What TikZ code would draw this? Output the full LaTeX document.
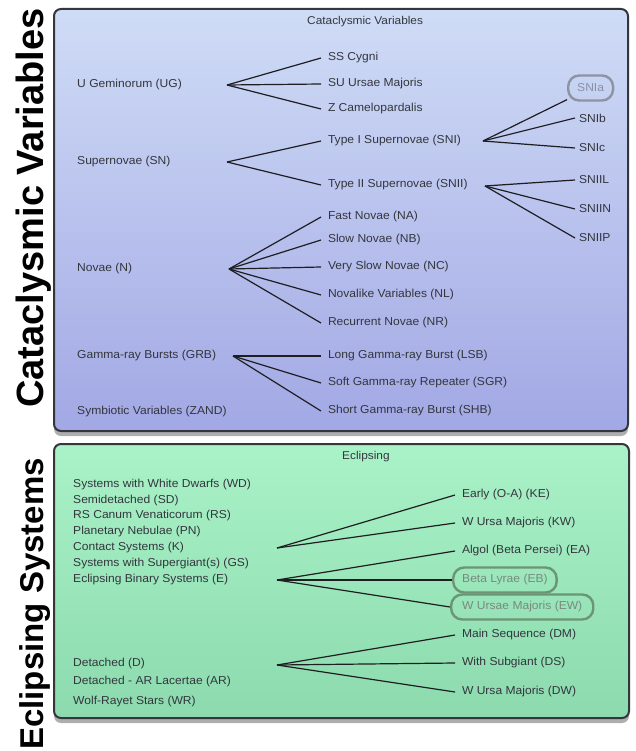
\documentclass[tikz,border=0pt]{standalone}
\usepackage{fontspec}
\setmainfont{Liberation Sans}[FakeStretch=1.05]
\newfontfamily\bigfont{Liberation Sans}
\usetikzlibrary{shadows}
\definecolor{txt}{HTML}{33363D}
\definecolor{lnk}{HTML}{1E1E22}
\definecolor{bord}{HTML}{35363C}
\definecolor{blueA}{HTML}{CFDCF6}
\definecolor{blueB}{HTML}{A2A8E4}
\definecolor{greenA}{HTML}{AAF2C8}
\definecolor{greenB}{HTML}{8CDAAE}
\definecolor{ovalG}{HTML}{6B9575}
\definecolor{ovalB}{HTML}{8E93A4}
\definecolor{grayG}{HTML}{788A80}
\definecolor{grayB}{HTML}{8B90A6}
\begin{document}
\begin{tikzpicture}[x=1pt,y=-1pt,
  item/.style={anchor=west, inner sep=0pt, outer xsep=7pt, text=txt, font=\fontsize{11.5}{13}\selectfont},
  itemn/.style={item, outer xsep=4pt},
  src/.style={anchor=west, inner sep=0pt, text=txt, font=\fontsize{11.5}{13}\selectfont},
  ttl/.style={anchor=west, inner sep=0pt, text=txt, font=\fontsize{11.3}{13}\selectfont},
  big/.style={rotate=90, anchor=base, inner sep=0pt, font=\fontsize{38}{40}\bigfont\bfseries},
  link/.style={draw=lnk, line width=1.2pt},
  panel/.style={draw=bord, line width=2pt, rounded corners=7pt,
     drop shadow={shadow xshift=0pt, shadow yshift=-5pt, opacity=0.45, fill=black!70}},
  ovalg/.style={anchor=west, draw=ovalG, line width=2.4pt,
     rounded corners=11pt, minimum height=25pt, inner xsep=9pt, inner ysep=0pt, text=grayG,
     font=\fontsize{11.5}{13}\selectfont},
  ovalb/.style={ovalg, draw=ovalB, text=grayB}
]
\useasboundingbox (0,0) rectangle (635,751);
\fill[white] (0,0) rectangle (635,751);

% panels
\node[panel, top color=blueA, bottom color=blueB, minimum width=574pt, minimum height=422pt,
  anchor=north west, inner sep=0pt] (cvbox) at (53,8) {};
\node[panel, top color=greenA, bottom color=greenB, minimum width=575pt, minimum height=274pt,
  anchor=north west, inner sep=0pt] (ebox) at (53,443) {};

% big side titles
\node[big] (cvlab) at (43,208) {Cataclysmic Variables};
\node[big, font=\fontsize{33}{35}\bigfont\bfseries] (eslab) at (43,604) {Eclipsing Systems};

% ---------- Cataclysmic variables ----------
\node[ttl] (cvt) at (307,22) {Cataclysmic Variables};

\node[src] (ug) at (77,85) {U Geminorum (UG)};
\coordinate (ugb) at (227,85);
\node[item] (ssc) at (321,58) {SS Cygni};
\node[item] (suu) at (321,84) {SU Ursae Majoris};
\node[item] (zca) at (321,109) {Z Camelopardalis};
\foreach \t in {ssc,suu,zca} \draw[link] (ugb) -- (\t.west);

\node[src] (sn) at (77,162) {Supernovae (SN)};
\coordinate (snb) at (227,162);
\node[item] (sni) at (321,141) {Type I Supernovae (SNI)};
\node[item] (snii) at (321,185) {Type II Supernovae (SNII)};
\foreach \t in {sni,snii} \draw[link] (snb) -- (\t.west);

\coordinate (snib) at (483,141);
\node[ovalb] (snia) at (567,88) {SNIa};
\node[itemn] (snib2) at (575,118) {SNIb};
\node[itemn] (snic) at (575,148) {SNIc};
\draw[link] (snib) -- (snia);
\draw[link] (snib) -- (snib2.west);
\draw[link] (snib) -- (snic.west);

\coordinate (sniib) at (485,186);
\node[itemn] (sniil) at (575,180) {SNIIL};
\node[itemn] (sniin) at (575,209) {SNIIN};
\node[itemn] (sniip) at (575,238) {SNIIP};
\foreach \t in {sniil,sniin,sniip} \draw[link] (sniib) -- (\t.west);

\node[src] (nov) at (77,269) {Novae (N)};
\coordinate (novb) at (229,269);
\node[item] (na) at (321,217) {Fast Novae (NA)};
\node[item] (nb) at (321,240) {Slow Novae (NB)};
\node[item] (nc) at (321,267) {Very Slow Novae (NC)};
\node[item] (nl) at (321,295) {Novalike Variables (NL)};
\node[item] (nr) at (321,323) {Recurrent Novae (NR)};
\foreach \t in {na,nb,nc,nl,nr} \draw[link] (novb) -- (\t.west);

\node[src] (grb) at (77,356) {Gamma-ray Bursts (GRB)};
\coordinate (grbb) at (233,356);
\node[item] (lsb) at (321,356) {Long Gamma-ray Burst (LSB)};
\node[item] (sgr) at (321,383) {Soft Gamma-ray Repeater (SGR)};
\node[item] (shb) at (321,411) {Short Gamma-ray Burst (SHB)};
\foreach \t in {lsb,sgr,shb} \draw[link] (grbb) -- (\t.west);

\node[src] (zand) at (77,412) {Symbiotic Variables (ZAND)};

% ---------- Eclipsing ----------
\node[ttl] (ect) at (342,457) {Eclipsing};

\node[src] (wd) at (73,485) {Systems with White Dwarfs (WD)};
\node[src] (sd) at (73,501) {Semidetached (SD)};
\node[src] (rs) at (73,516) {RS Canum Venaticorum (RS)};
\node[src] (pn) at (73,532) {Planetary Nebulae (PN)};
\node[src] (k) at (73,548) {Contact Systems (K)};
\node[src] (gs) at (73,564) {Systems with Supergiant(s) (GS)};
\node[src] (e) at (73,580) {Eclipsing Binary Systems (E)};
\node[src] (d) at (73,664) {Detached (D)};
\node[src] (ar) at (73,682) {Detached - AR Lacertae (AR)};
\node[src] (wr) at (73,702) {Wolf-Rayet Stars (WR)};

\coordinate (kb) at (277,548);
\node[item] (ke) at (455,495) {Early (O-A) (KE)};
\node[item] (kw) at (455,523) {W Ursa Majoris (KW)};
\foreach \t in {ke,kw} \draw[link] (kb) -- (\t.west);

\coordinate (eb0) at (277,580);
\node[item] (ea) at (455,551) {Algol (Beta Persei) (EA)};
\node[ovalg] (ebl) at (452,580) {Beta Lyrae (EB)};
\node[ovalg, inner xsep=11pt] (ew) at (450,607) {W Ursae Majoris (EW)};
\draw[link] (eb0) -- (ea.west);
\draw[link] (eb0) -- (ebl.west);
\draw[link] (eb0) -- (ew.west);

\coordinate (db) at (277,665);
\node[item] (dm) at (455,635) {Main Sequence (DM)};
\node[item] (ds) at (455,663) {With Subgiant (DS)};
\node[item] (dw) at (455,692) {W Ursa Majoris (DW)};
\foreach \t in {dm,ds,dw} \draw[link] (db) -- (\t.west);
\end{tikzpicture}
\end{document}
